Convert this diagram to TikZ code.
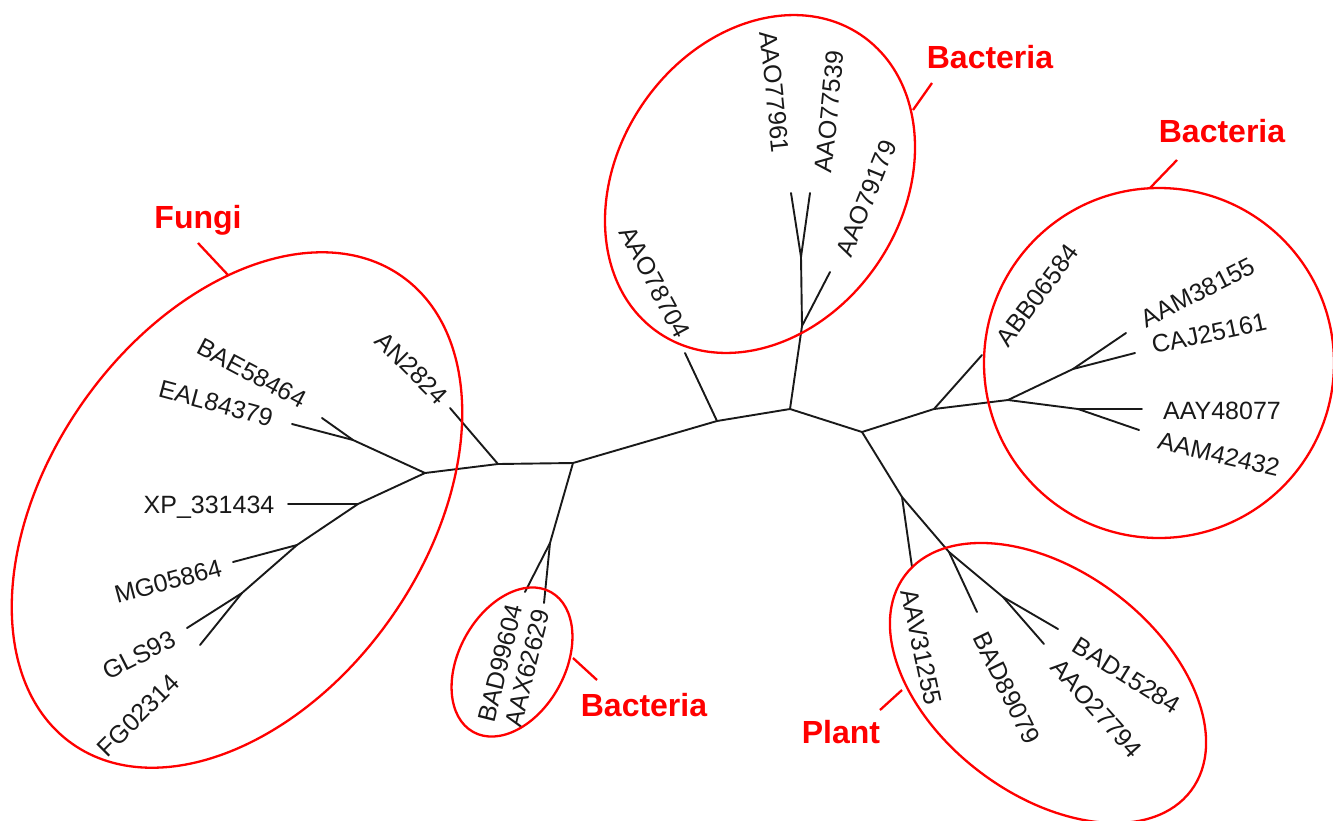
\documentclass[tikz,border=0pt]{standalone}
\usepackage{fontspec}
\setmainfont{Liberation Sans}
\begin{document}
\begin{tikzpicture}[x=1pt,y=-1pt,
  branch/.style={line width=1.9pt, black!90, line cap=round},
  circ/.style={line width=2.3pt, red},
  leaf/.style={font=\fontsize{25}{25}\selectfont, inner sep=0pt, text height=18pt, text depth=0pt, text=black!90},
  grp/.style={font=\fontsize{32}{32}\selectfont\bfseries, inner sep=0pt, text height=23pt, text depth=0pt, text=red}]
\useasboundingbox (0,0) rectangle (1333,820);
% internal nodes
\coordinate (F0) at (425,473);
\coordinate (A1) at (498,464);
\coordinate (A2) at (573,463);
\coordinate (A3) at (717,421);
\coordinate (A4) at (790,409);
\coordinate (A5) at (862,432);
\coordinate (R1) at (934,409);
\coordinate (R2) at (1008,400);
\coordinate (F1) at (353,440);
\coordinate (F2) at (358,504);
\coordinate (F3) at (297,545);
\coordinate (F4) at (242,593);
\coordinate (B1) at (550,543);
\coordinate (T1) at (802,326);
\coordinate (T2) at (801,257);
\coordinate (P1) at (902,497);
\coordinate (P2) at (949,552);
\coordinate (P3) at (1003,597);
\coordinate (R3) at (1073,369);
\coordinate (R4) at (1078,409);
% leaf ends
\coordinate (eEAL) at (292,424);
\coordinate (eBAE) at (322,418);
\coordinate (eAN) at (450,408);
\coordinate (eXP) at (288,504);
\coordinate (eMG) at (233,562);
\coordinate (eGLS) at (187,628);
\coordinate (eFG) at (200,645);
\coordinate (eBADn) at (525,592);
\coordinate (eAAX) at (544,603);
\coordinate (eAAOa) at (685,353);
\coordinate (eAAOb) at (791,193);
\coordinate (eAAOc) at (810,193);
\coordinate (eAAOd) at (830,272);
\coordinate (eABB) at (982,355);
\coordinate (eAAMa) at (1126,333);
\coordinate (eCAJ) at (1135,353);
\coordinate (eAAY) at (1142,409);
\coordinate (eAAMb) at (1139,430);
\coordinate (eAAV) at (912,567);
\coordinate (eBADe) at (977,612);
\coordinate (eBADo) at (1058,629);
\coordinate (eAAOe) at (1044,644);
% branches
\draw[branch] (F0) -- (A1) -- (A2) -- (A3) -- (A4) -- (A5) -- (R1) -- (R2);
\draw[branch] (F0) -- (F1) -- (eEAL);
\draw[branch] (F1) -- (eBAE);
\draw[branch] (F0) -- (F2) -- (F3) -- (F4) -- (eFG);
\draw[branch] (F2) -- (eXP);
\draw[branch] (F3) -- (eMG);
\draw[branch] (F4) -- (eGLS);
\draw[branch] (A1) -- (eAN);
\draw[branch] (A2) -- (B1) -- (eBADn);
\draw[branch] (B1) -- (eAAX);
\draw[branch] (A3) -- (eAAOa);
\draw[branch] (A4) -- (T1) -- (T2) -- (eAAOb);
\draw[branch] (T2) -- (eAAOc);
\draw[branch] (T1) -- (eAAOd);
\draw[branch] (R1) -- (eABB);
\draw[branch] (R2) -- (R3) -- (eAAMa);
\draw[branch] (R3) -- (eCAJ);
\draw[branch] (R2) -- (R4) -- (eAAY);
\draw[branch] (R4) -- (eAAMb);
\draw[branch] (A5) -- (P1) -- (P2) -- (P3) -- (eBADo);
\draw[branch] (P1) -- (eAAV);
\draw[branch] (P2) -- (eBADe);
\draw[branch] (P3) -- (eAAOe);
% leaf labels
\node[leaf, rotate=-28] (lBAE) at (252,373) {BAE58464};
\node[leaf, rotate=-15] (lEAL) at (216,403) {EAL84379};
\node[leaf, rotate=-45] (lAN) at (412,368) {AN2824};
\node[leaf] (lXP) at (209,504) {XP\_331434};
\node[leaf, rotate=15] (lMG) at (168,581) {MG05864};
\node[leaf, rotate=27] (lGLS) at (139,655) {GLS93};
\node[leaf, rotate=45] (lFG) at (138,715) {FG02314};
\node[leaf, rotate=76] (lBADn) at (500,663) {BAD99604};
\node[leaf, rotate=76] (lAAX) at (527,668) {AAX62629};
\node[leaf, rotate=-62] (lAAOa) at (655,282) {AAO78704};
\node[leaf, rotate=-84] (lAAOb) at (775,92) {AAO77961};
\node[leaf, rotate=84] (lAAOc) at (829,112) {AAO77539};
\node[leaf, rotate=68] (lAAOd) at (866,198) {AAO79179};
\node[leaf, rotate=53] (lABB) at (1037,295) {ABB06584};
\node[leaf, rotate=27] (lAAMa) at (1198,292) {AAM38155};
\node[leaf, rotate=12] (lCAJ) at (1209,333) {CAJ25161};
\node[leaf] (lAAY) at (1222,410) {AAY48077};
\node[leaf, rotate=-13] (lAAMb) at (1219,454) {AAM42432};
\node[leaf, rotate=-78] (lAAV) at (922,647) {AAV31255};
\node[leaf, rotate=-64] (lBADe) at (1007,688) {BAD89079};
\node[leaf, rotate=-32] (lBADo) at (1127,675) {BAD15284};
\node[leaf, rotate=-48] (lAAOe) at (1097,708) {AAO27794};
% group ellipses
\draw[circ, rotate around={54.85:(237,510)}] (237,510) ellipse [x radius=286pt, y radius=188pt];
\draw[circ, rotate around={55.8:(760,184)}] (760,184) ellipse [x radius=180pt, y radius=142pt];
\draw[circ, rotate around={61:(512,662)}] (512,662) ellipse [x radius=80pt, y radius=53pt];
\draw[circ] (1159,363) ellipse [x radius=175pt, y radius=175pt];
\draw[circ, rotate around={-37:(1048,683)}] (1048,683) ellipse [x radius=179pt, y radius=112pt];
% group labels
\node[grp] (gFungi) at (198,217) {Fungi};
\node[grp] (gBacT) at (990,57) {Bacteria};
\node[grp] (gBacR) at (1222,131) {Bacteria};
\node[grp] (gBacB) at (644,705) {Bacteria};
\node[grp] (gPlant) at (841,732) {Plant};
% leaders
\coordinate (kF1) at (198,243); \coordinate (kF2) at (228,275);
\coordinate (kT1) at (932,83);  \coordinate (kT2) at (913,110);
\coordinate (kR1) at (1177,160); \coordinate (kR2) at (1150,188);
\coordinate (kB1) at (597,680); \coordinate (kB2) at (573,658);
\coordinate (kP1) at (880,710); \coordinate (kP2) at (902,690);
\draw[circ] (kF1) -- (kF2);
\draw[circ] (kT1) -- (kT2);
\draw[circ] (kR1) -- (kR2);
\draw[circ] (kB1) -- (kB2);
\draw[circ] (kP1) -- (kP2);
\end{tikzpicture}
\end{document}
